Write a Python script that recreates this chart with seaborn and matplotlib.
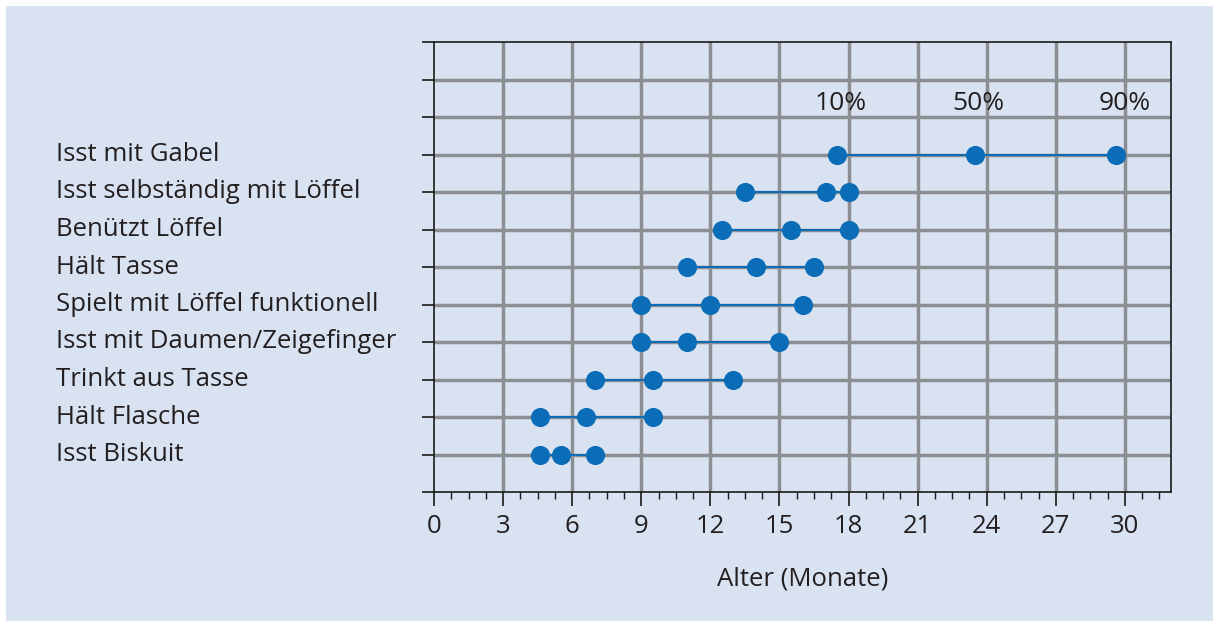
import matplotlib
matplotlib.use("Agg")
import matplotlib.pyplot as plt
import matplotlib.transforms as mtransforms
from matplotlib.patches import Rectangle
from matplotlib.ticker import MultipleLocator
import seaborn as sns
import pandas as pd

# ---- data ----
items = ["Isst mit Gabel", "Isst selbständig mit Löffel", "Benützt Löffel",
         "Hält Tasse", "Spielt mit Löffel funktionell",
         "Isst mit Daumen/Zeigefinger", "Trinkt aus Tasse",
         "Hält Flasche", "Isst Biskuit"]
p10 = [17.5, 13.5, 12.5, 11.0, 9.0, 9.0, 7.0, 4.6, 4.6]
p50 = [23.5, 17.0, 15.5, 14.0, 12.0, 11.0, 9.5, 6.6, 5.5]
p90 = [29.6, 18.0, 18.0, 16.5, 16.0, 15.0, 13.0, 9.5, 7.0]
percent_labels = ["10%", "50%", "90%"]
xticks = [0, 3, 6, 9, 12, 15, 18, 21, 24, 27, 30]
xlabel = "Alter (Monate)"

BG = "#d9e2f1"
BLUE = "#0b6cb8"
GRID = "#8b8e93"
TXT = "#231f20"

sns.set_theme(style="white")
plt.rcParams["font.family"] = ["Open Sans", "DejaVu Sans"]

n = len(items)
pos = [n - i for i in range(n)]  # Isst mit Gabel at top (9), Isst Biskuit at bottom (1)

rows = []
for it, y, a, b, c in zip(items, pos, p10, p50, p90):
    for v in (a, b, c):
        rows.append({"item": it, "pos": y, "age": v})
df = pd.DataFrame(rows)

fig = plt.figure(figsize=(12.15, 6.23), dpi=100, facecolor="white")
fig.patches.append(Rectangle((6 / 1215, 2 / 623), 1 - 8 / 1215, 1 - 8 / 623,
                             transform=fig.transFigure, facecolor=BG,
                             edgecolor="none", zorder=-10))
ax = fig.add_axes([434 / 1215, 1 - 492 / 623, (1171 - 434) / 1215, (492 - 42) / 623])
ax.set_facecolor(BG)

sns.lineplot(data=df, x="age", y="pos", units="item", estimator=None,
             color=BLUE, linewidth=1.4, ax=ax, zorder=3, legend=False)
sns.scatterplot(data=df, x="age", y="pos", color=BLUE, s=190, linewidth=0,
                ax=ax, zorder=4, legend=False)

ax.set_xlim(0, 32)
ax.set_ylim(0, 12)
ax.set_xticks(xticks)
ax.xaxis.set_minor_locator(MultipleLocator(0.75))
ax.set_yticks(range(0, 13))
ax.set_yticklabels([])
ax.set_xticklabels([str(t) for t in xticks], fontsize=18.5, color=TXT)

# grid
for t in xticks[1:]:
    ax.axvline(t, color=GRID, linewidth=2.5, zorder=1)
for y in range(1, 12):
    ax.axhline(y, color=GRID, linewidth=2.5, zorder=1)

for s in ax.spines.values():
    s.set_color("#1a1a1a")
    s.set_linewidth(1.2)
    s.set_visible(True)
    s.set_zorder(5)

ax.tick_params(axis="x", which="major", direction="out", length=10, width=1.2,
               color="#1a1a1a", pad=6, bottom=True)
ax.tick_params(axis="x", which="minor", direction="out", length=5, width=1.0,
               color="#1a1a1a", bottom=True)
ax.tick_params(axis="y", which="major", direction="out", length=9, width=1.2,
               color="#1a1a1a", left=True)

ax.set_xlabel(xlabel, fontsize=18.5, color=TXT, labelpad=20)
ax.set_ylabel("")

# category labels on the left
trans = mtransforms.blended_transform_factory(fig.transFigure, ax.transData)
for it, y in zip(items, pos):
    ax.text(56 / 1215, y, it, transform=trans, ha="left", va="center",
            fontsize=18.5, color=TXT)

# percentile labels
for lab, x, dx in zip(percent_labels, [p10[0], p50[0], p90[0]], [0.15, 0.15, 0.4]):
    ax.text(x + dx, 10.35, lab, ha="center", va="center", fontsize=19,
            color=TXT, zorder=6)

fig.savefig("out.png", dpi=100, facecolor="white")
